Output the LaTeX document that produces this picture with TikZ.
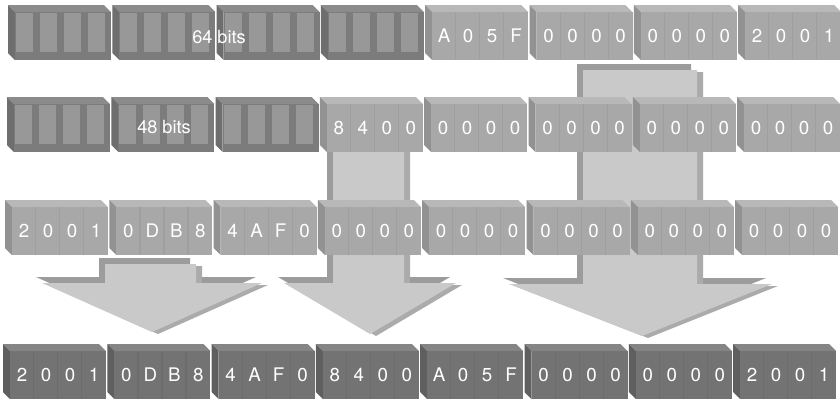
\documentclass[tikz,border=0pt]{standalone}
\usepackage{fontspec}
\newfontfamily\hexfont{TeX Gyre Heros}

\definecolor{dimtop}{HTML}{8B8B8B}
\definecolor{dimside}{HTML}{6E6E6E}
\definecolor{dimface}{HTML}{7C7C7C}
\definecolor{dimcell}{HTML}{989898}
\definecolor{hitop}{HTML}{B8B8B8}
\definecolor{hiside}{HTML}{929292}
\definecolor{hiface}{HTML}{A8A8A8}
\definecolor{hiline}{HTML}{9F9F9F}
\definecolor{outtop}{HTML}{858585}
\definecolor{outside}{HTML}{5F5F5F}
\definecolor{outface}{HTML}{737373}
\definecolor{outline}{HTML}{6C6C6C}
\definecolor{arrowface}{HTML}{C9C9C9}
\definecolor{arrowdark}{HTML}{9C9C9C}
\definecolor{arrowmid}{HTML}{ABABAB}

% empty 16 bit block: name, x, y (top left of the bevel)
\newcommand{\blanknibble}[3]{%
  \fill[dimtop] (#2,#3) -- ++(96,0) -- ++(7,7) -- ++(-96,0) -- cycle;
  \fill[dimside] (#2,#3) -- ++(7,7) -- ++(0,48) -- ++(-7,-7) -- cycle;
  \fill[dimface] ({#2+7},{#3+7}) coordinate (#1) rectangle ++(96,48);
  \foreach \k in {0,...,3}
    \fill[dimcell] ({#2+8+24*\k},{#3+8}) rectangle ++(17,39);
}

% 16 bit block with its four hex digits: look, name, x, y, digits
\newcommand{\nibble}[5]{%
  \fill[#1top] (#3,#4) -- ++(96,0) -- ++(7,7) -- ++(-96,0) -- cycle;
  \fill[#1side] (#3,#4) -- ++(7,7) -- ++(0,48) -- ++(-7,-7) -- cycle;
  \fill[#1face] ({#3+7},{#4+7}) coordinate (#2) rectangle ++(96,48);
  \foreach \k in {1,2,3}
    \fill[#1line] ({#3+6+24*\k},{#4+7}) rectangle ++(1.2,48);
  \edef\digits{#5}
  \foreach \d [count=\k from 0] in \digits
    \node[digit] (#2-\k) at ({#3+19+24*\k},{#4+31}) {\d};
}

\begin{document}
\begin{tikzpicture}[x=0.3mm,y=-0.3mm,
    digit/.style={text=white,inner sep=0pt,font=\hexfont\fontsize{16}{18}\selectfont},
    bitslabel/.style={text=white,inner sep=0pt,font=\hexfont\fontsize{15.5}{18}\selectfont}]
  \fill[white] (0,0) rectangle (840,401);
  \useasboundingbox (0,0) rectangle (840,401);

  % block arrows: back bevels first, then the front face
  \foreach \dx/\dy/\c in {-6/-6/arrowdark,6/2/arrowmid,0/0/arrowface}{
    \fill[\c,shift={(\dx,\dy)}] (105,264) -- (196,264) -- (196,283) -- (262,283)
      -- (152,332) -- (42,283) -- (105,283) -- cycle;
    \fill[\c,shift={(\dx,\dy)}] (333,130) -- (404,130) -- (404,283) -- (456,283)
      -- (370,334) -- (284,283) -- (333,283) -- cycle;
    \fill[\c,shift={(\dx,\dy)}] (583,70) -- (697,70) -- (697,284) -- (772,284)
      -- (642,336) -- (509,284) -- (583,284) -- cycle;
  }

  % row 1: 64 bit prefix
  \foreach \i in {0,...,3}
    \blanknibble{r1b\i}{8+104.3*\i}{5};
  \foreach \i/\txt in {4/{A,0,5,F},5/{0,0,0,0},6/{0,0,0,0},7/{2,0,0,1}}
    \nibble{hi}{r1b\i}{8+104.3*\i}{5}{\txt};
  \node[bitslabel] (len64) at (219,37) {64 bits};

  % row 2: 48 bit prefix
  \foreach \i in {0,...,2}
    \blanknibble{r2b\i}{7+104.3*\i}{97};
  \foreach \i/\txt in {3/{8,4,0,0},4/{0,0,0,0},5/{0,0,0,0},6/{0,0,0,0},7/{0,0,0,0}}
    \nibble{hi}{r2b\i}{7+104.3*\i}{97}{\txt};
  \node[bitslabel] (len48) at (164,127) {48 bits};

  % row 3
  \foreach \i/\txt in {0/{2,0,0,1},1/{0,D,B,8},2/{4,A,F,0},3/{0,0,0,0},
      4/{0,0,0,0},5/{0,0,0,0},6/{0,0,0,0},7/{0,0,0,0}}
    \nibble{hi}{r3b\i}{5+104.3*\i}{200}{\txt};

  % row 4: the result
  \foreach \i/\txt in {0/{2,0,0,1},1/{0,D,B,8},2/{4,A,F,0},3/{8,4,0,0},
      4/{A,0,5,F},5/{0,0,0,0},6/{0,0,0,0},7/{2,0,0,1}}
    \nibble{out}{r4b\i}{3+104.3*\i}{344}{\txt};
\end{tikzpicture}
\end{document}
